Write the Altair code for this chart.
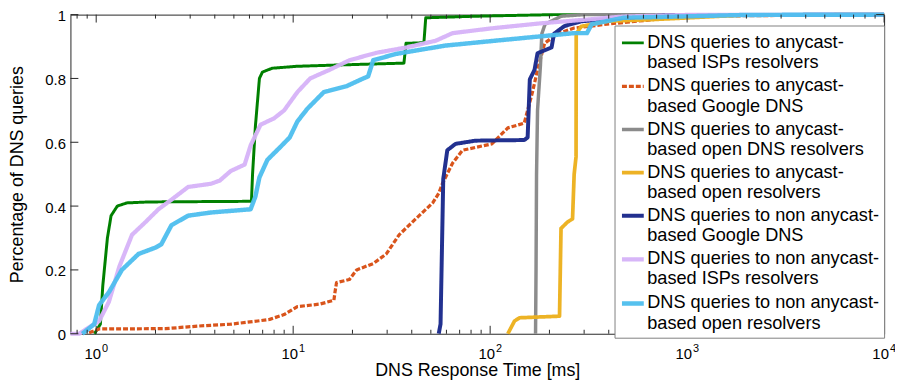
import altair as alt
import pandas as pd

# ---------------- data ----------------
SERIES = [
    "DNS queries to anycast-|based ISPs resolvers",
    "DNS queries to anycast-|based Google DNS",
    "DNS queries to anycast-|based open DNS resolvers",
    "DNS queries to anycast-|based open resolvers",
    "DNS queries to non anycast-|based Google DNS",
    "DNS queries to non anycast-|based ISPs resolvers",
    "DNS queries to non anycast-|based open resolvers",
]
COLORS = ["#008000", "#d95319", "#8a8a8a", "#edb120", "#1b2a8c", "#d6b3f8", "#4dbeee"]
WIDTHS = [3, 4.5, 5, 5, 4.5, 5, 5]
DASHES = [[1, 0], [5, 2], [1, 0], [1, 0], [1, 0], [1, 0], [1, 0]]
OPACITY = [1.0, 0.95, 0.65, 0.75, 1.0, 0.9, 0.9]

green_x = [0.98, 1.05, 1.08, 1.14, 1.19, 1.28, 1.43, 1.85, 6.14, 6.22, 6.43, 6.74, 6.98, 7.83,
           10.4, 16.6, 36.5, 37.4, 46.1, 47.1, 84.2, 211, 10000]
green_y = [0, 0.03, 0.15, 0.30, 0.37, 0.40, 0.41, 0.413, 0.415, 0.50, 0.65, 0.80, 0.82, 0.832,
           0.838, 0.842, 0.848, 0.91, 0.912, 0.99, 0.995, 1.0, 1.0]

orange_x = [0.92, 1.035, 2.25, 3.29, 4.82, 6.6, 7.6, 9.0, 10.5, 13.7, 16.1, 16.3, 16.6, 19.3, 21.0,
            25.5, 29.7, 34.5, 41.9, 51.1, 54.8, 57.2, 64.5, 72.4, 102, 123, 149, 164, 174, 189,
            219, 267, 391, 1000, 10000]
orange_y = [0.003, 0.015, 0.016, 0.024, 0.03, 0.04, 0.045, 0.06, 0.085, 0.093, 0.105, 0.13, 0.16,
            0.17, 0.20, 0.22, 0.25, 0.31, 0.36, 0.41, 0.44, 0.47, 0.535, 0.575, 0.595, 0.645, 0.66,
            0.757, 0.827, 0.91, 0.94, 0.958, 0.97, 0.995, 1.0]

gray_x = [170, 171, 172, 174, 180, 183, 190, 230, 300, 10000]
gray_y = [0, 0.2, 0.5, 0.7, 0.84, 0.94, 0.97, 0.995, 1.0, 1.0]

yellow_x = [123, 133, 141, 225, 229, 247, 262, 267, 273, 273.5, 290, 391, 700, 2000, 10000]
yellow_y = [0, 0.04, 0.05, 0.055, 0.33, 0.35, 0.36, 0.50, 0.555, 0.94, 0.963, 0.979, 0.985, 0.999, 1.0]

navy_x = [54.8, 56.0, 57.8, 60.6, 66.7, 84.2, 149, 155, 159, 168, 174, 205, 211, 238, 290, 475, 800, 10000]
navy_y = [0, 0.03, 0.485, 0.575, 0.595, 0.605, 0.607, 0.615, 0.797, 0.827, 0.879, 0.897, 0.94,
          0.964, 0.979, 0.99, 0.998, 1.0]

purple_x = [0.74, 0.82, 0.92, 1.035, 1.16, 1.31, 1.52, 1.78, 2.07, 2.41, 2.93, 3.83, 4.24, 4.82,
            5.67, 6.08, 6.83, 8.0, 9.0, 10.5, 12.2, 15.3, 19.3, 26.3, 37.4, 52.8, 64.5, 105, 183,
            475, 1000, 10000]
purple_y = [0, 0, 0.02, 0.04, 0.10, 0.21, 0.31, 0.35, 0.39, 0.42, 0.46, 0.47, 0.48, 0.51, 0.53,
            0.59, 0.655, 0.675, 0.70, 0.757, 0.80, 0.827, 0.857, 0.88, 0.897, 0.918, 0.942, 0.958,
            0.973, 0.994, 0.999, 1.0]

cyan_x = [0.85, 0.977, 1.035, 1.16, 1.35, 1.64, 2.0, 2.14, 2.41, 2.93, 3.83, 6.08, 6.43, 6.74, 7.4,
          8.6, 9.6, 10.5, 11.8, 14.3, 18.7, 22.7, 24.0, 25.5, 33.3, 59.3, 105, 267, 310, 328, 475,
          2000, 10000]
cyan_y = [0, 0.03, 0.09, 0.13, 0.20, 0.25, 0.27, 0.28, 0.34, 0.37, 0.38, 0.39, 0.43, 0.49, 0.545,
          0.585, 0.615, 0.665, 0.705, 0.757, 0.776, 0.80, 0.806, 0.857, 0.877, 0.903, 0.918, 0.942,
          0.942, 0.97, 0.99, 0.999, 1.0]

CURVES = [(green_x, green_y), (orange_x, orange_y), (gray_x, gray_y), (yellow_x, yellow_y),
          (navy_x, navy_y), (purple_x, purple_y), (cyan_x, cyan_y)]

X_MAJOR = [1, 10, 100, 1000, 10000]
X_EXP = ["0", "1", "2", "3", "4"]
X_MINOR = [0.8, 0.9, 2, 3, 4, 5, 6, 7, 8, 9, 20, 30, 40, 50, 60, 70, 80, 90,
           200, 300, 400, 500, 600, 700, 800, 900, 2000, 3000, 4000, 5000, 6000, 7000, 8000, 9000]
Y_TICKS = [0, 0.2, 0.4, 0.6, 0.8, 1.0]

# ---------------- build ----------------
rows = []
for s, (xs, ys) in zip(SERIES, CURVES):
    for i, (xv, yv) in enumerate(zip(xs, ys)):
        rows.append({"series": s, "t": xv, "p": yv, "i": i})
df = pd.DataFrame(rows)

W, H = 821, 322
FONT = "Liberation Sans"

xscale = alt.Scale(type="log", domain=[0.74, 10000], nice=False)
yscale = alt.Scale(domain=[0, 1], nice=False)

x_axis = alt.Axis(
    values=X_MAJOR, labelExpr="'10'", labelFontSize=15, labelOffset=-4, labelPadding=12.5,
    labelFlush=False, ticks=False, tickSize=0, domain=False, grid=False, labelColor="black",
    labelFont=FONT, title="DNS Response Time [ms]", titleFontSize=18, titleFontWeight="normal",
    titleFont=FONT, titleBaseline="alphabetic", titleY=42.5, titleColor="black")
y_axis = alt.Axis(
    values=Y_TICKS, format="~g", labelFontSize=15, labelPadding=5, labelOffset=1, ticks=False,
    tickSize=0, domain=False, grid=False, labelColor="black", labelFont=FONT,
    title="Percentage of DNS queries", titleFontSize=18, titleFontWeight="normal", titleFont=FONT,
    titleX=-53, titleBaseline="middle", titleColor="black")

x_enc = alt.X("t:Q", scale=xscale, axis=x_axis)
y_enc = alt.Y("p:Q", scale=yscale, axis=y_axis)

legend = alt.Legend(
    title=None, orient="none", legendX=549, legendY=11, labelExpr="split(datum.label, '|')",
    labelFontSize=18.3, labelFont=FONT, labelColor="black", labelLimit=400, symbolType="stroke",
    symbolSize=484, padding=5, rowPadding=1.5, labelOffset=1, strokeColor="#808080",
    fillColor="white", cornerRadius=0)

color_enc = alt.Color("series:N", scale=alt.Scale(domain=SERIES, range=COLORS), legend=legend)
dash_enc = alt.StrokeDash("series:N", scale=alt.Scale(domain=SERIES, range=DASHES), legend=legend)
width_enc = alt.StrokeWidth("series:N", scale=alt.Scale(domain=SERIES, range=WIDTHS), legend=legend)
op_enc = alt.Opacity("series:N", scale=alt.Scale(domain=SERIES, range=OPACITY), legend=legend)

layers = []
for s in SERIES:
    layers.append(
        alt.Chart(df).transform_filter(alt.datum.series == s)
        .mark_line(strokeJoin="round", strokeCap="butt")
        .encode(x=x_enc, y=y_enc, color=color_enc, strokeDash=dash_enc,
                strokeWidth=width_enc, opacity=op_enc, order="i:Q")
    )

tick_color = "#262626"
xmaj = pd.DataFrame({"t": X_MAJOR, "e": X_EXP})
xmin = pd.DataFrame({"t": X_MINOR})
yt = pd.DataFrame({"p": Y_TICKS})

ticks = [
    alt.Chart(xmaj).mark_rule(color=tick_color).encode(x=x_enc, y=alt.value(H), y2=alt.value(H - 8)),
    alt.Chart(xmaj).mark_rule(color=tick_color).encode(x=x_enc, y=alt.value(0), y2=alt.value(8)),
    alt.Chart(xmin).mark_rule(color=tick_color).encode(x=x_enc, y=alt.value(H), y2=alt.value(H - 4)),
    alt.Chart(xmin).mark_rule(color=tick_color).encode(x=x_enc, y=alt.value(0), y2=alt.value(4)),
    alt.Chart(yt).mark_rule(color=tick_color).encode(y=y_enc, x=alt.value(0), x2=alt.value(8)),
    alt.Chart(yt).mark_rule(color=tick_color).encode(y=y_enc, x=alt.value(W), x2=alt.value(W - 8)),
    alt.Chart(xmaj).mark_text(fontSize=11, baseline="top", align="center", dx=9, color="black",
                              font=FONT).encode(x=x_enc, y=alt.value(H + 9), text="e:N"),
]

chart = alt.layer(*layers, *ticks).properties(
    width=W, height=H,
    autosize=alt.AutoSizeParams(type="none"),
    padding={"left": 63, "top": 5, "right": 11, "bottom": 45},
).configure(font=FONT).configure_view(stroke=tick_color, strokeWidth=1)

chart.save("out.html", embed_options={"renderer": "svg", "actions": False})
